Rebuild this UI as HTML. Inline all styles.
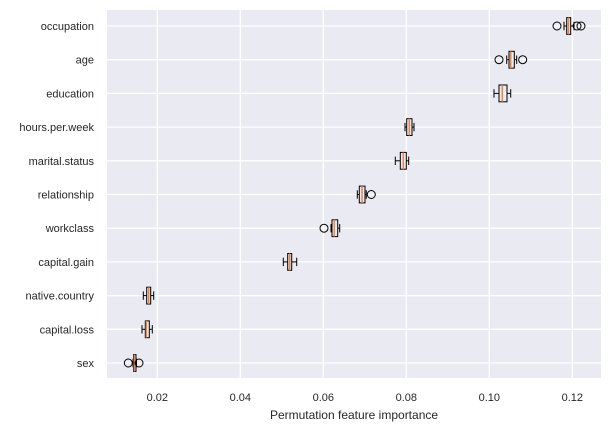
<!DOCTYPE html>
<html><head><style>body{margin:0;background:#fff}svg{display:block}text{font-family:"Liberation Sans","DejaVu Sans",sans-serif;fill:#262626}</style></head>
<body>
<svg width="612" height="432" viewBox="0 0 612 432">
<rect x="107" y="10" width="494" height="368" fill="#eaeaf2"/>
<g stroke="#fff" stroke-width="1.3">
<line x1="157.3" y1="10" x2="157.3" y2="378"/><line x1="240.3" y1="10" x2="240.3" y2="378"/><line x1="323.3" y1="10" x2="323.3" y2="378"/><line x1="406.3" y1="10" x2="406.3" y2="378"/><line x1="489.3" y1="10" x2="489.3" y2="378"/><line x1="572.3" y1="10" x2="572.3" y2="378"/>
<line x1="107" y1="26" x2="601" y2="26"/><line x1="107" y1="59.7" x2="601" y2="59.7"/><line x1="107" y1="93.4" x2="601" y2="93.4"/><line x1="107" y1="127.1" x2="601" y2="127.1"/><line x1="107" y1="160.8" x2="601" y2="160.8"/><line x1="107" y1="194.5" x2="601" y2="194.5"/><line x1="107" y1="228.2" x2="601" y2="228.2"/><line x1="107" y1="261.9" x2="601" y2="261.9"/><line x1="107" y1="295.6" x2="601" y2="295.6"/><line x1="107" y1="329.3" x2="601" y2="329.3"/><line x1="107" y1="363" x2="601" y2="363"/>
</g>
<g id="boxes" fill="none" stroke="#000" stroke-width="1"></g>
<g font-size="11" text-anchor="end">
<text x="94" y="30">occupation</text><text x="94" y="63.7">age</text><text x="94" y="97.4">education</text><text x="94" y="131.1">hours.per.week</text><text x="94" y="164.8">marital.status</text><text x="94" y="198.5">relationship</text><text x="94" y="232.2">workclass</text><text x="94" y="265.9">capital.gain</text><text x="94" y="299.6">native.country</text><text x="94" y="333.3">capital.loss</text><text x="94" y="367">sex</text>
</g>
<g font-size="11" text-anchor="middle">
<text x="157.3" y="401">0.02</text><text x="240.3" y="401">0.04</text><text x="323.3" y="401">0.06</text><text x="406.3" y="401">0.08</text><text x="489.3" y="401">0.10</text><text x="572.3" y="401">0.12</text>
<text x="354" y="419" font-size="12">Permutation feature importance</text>
</g>
</svg>
<script>
var d=[
[26,564,566.7,568.5,570.7,574,[557,577,581]],
[59.7,506.7,509,510.7,514.3,516.7,[499,522.7]],
[93.4,494,499,502.3,507,510.7,[]],
[127.1,405,406.7,409.3,412,414,[]],
[160.8,395.3,400.3,403.3,406.3,408.7,[]],
[194.5,357.3,359.3,362,365,366.3,[371.3]],
[228.2,331,332,334.3,337.7,339.7,[324]],
[261.9,283.3,287.7,289.7,291.7,296.7,[]],
[295.6,143.3,146.7,148.7,150.7,153.7,[]],
[329.3,142,145.3,146.3,149.3,152.3,[]],
[363,133,133.5,134.3,136,136.5,[128.3,139]]];
var g=document.getElementById('boxes'),s='';
d.forEach(function(r){var y=r[0],h=8.4,c=4.2;
s+='<line x1="'+r[1]+'" y1="'+y+'" x2="'+r[2]+'" y2="'+y+'"/><line x1="'+r[4]+'" y1="'+y+'" x2="'+r[5]+'" y2="'+y+'"/>';
s+='<line x1="'+r[1]+'" y1="'+(y-c)+'" x2="'+r[1]+'" y2="'+(y+c)+'"/><line x1="'+r[5]+'" y1="'+(y-c)+'" x2="'+r[5]+'" y2="'+(y+c)+'"/>';
s+='<rect x="'+r[2]+'" y="'+(y-h)+'" width="'+(r[4]-r[2])+'" height="'+(2*h)+'"/>';
s+='<line x1="'+r[3]+'" y1="'+(y-h)+'" x2="'+r[3]+'" y2="'+(y+h)+'" stroke="#e8834a" stroke-width="1.5"/>';
r[6].forEach(function(f){s+='<circle cx="'+f+'" cy="'+y+'" r="4"/>';});});
g.innerHTML=s;
</script>
</body></html>
